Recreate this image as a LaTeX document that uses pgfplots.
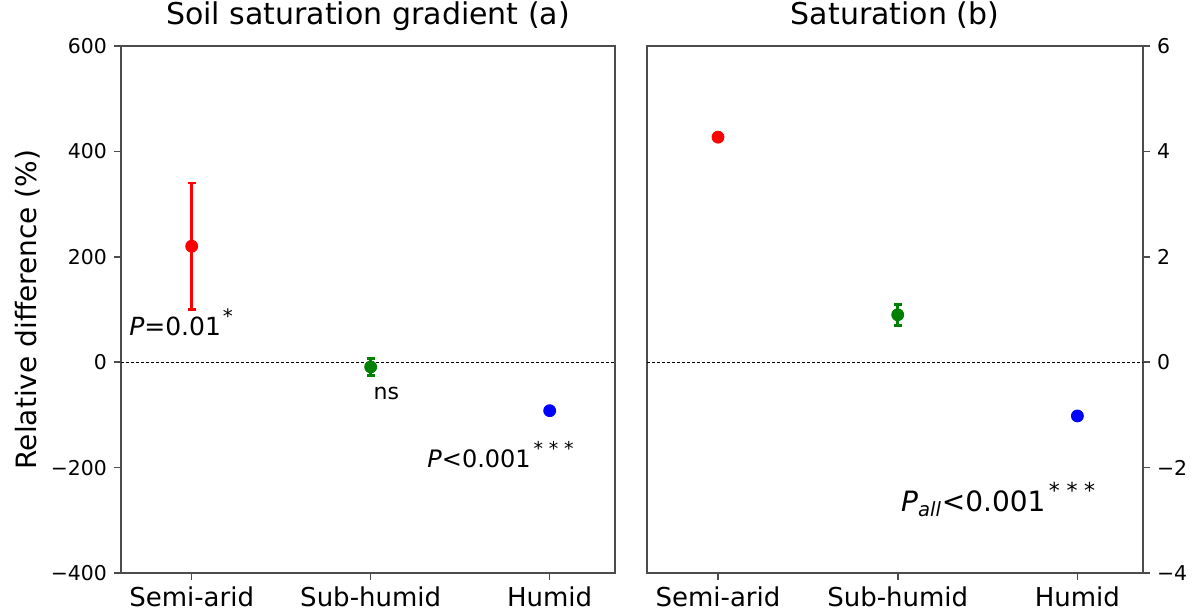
\documentclass[border=0pt]{standalone}
\usepackage{pgfplots}
\pgfplotsset{compat=1.18}
\usepackage{fontspec}
\setmainfont{DejaVu Sans}
\definecolor{mgreen}{HTML}{008000}
\newcommand{\sigstars}[1]{\raisebox{0.85ex}{\fontsize{#1}{#1}\selectfont *\hspace{0.3em}*\hspace{0.3em}*}}
\newcommand{\sigstar}[1]{\raisebox{0.85ex}{\fontsize{#1}{#1}\selectfont *}}
\begin{document}
\begin{tikzpicture}
\pgfplotsset{
  common/.style={
    scale only axis, height=263.5pt,
    xmin=-0.395, xmax=2.365,
    xtick={0,1,2}, xticklabels={Semi-arid,Sub-humid,Humid},
    xtick pos=left,
    tick align=outside, major tick length=3.5pt,
    axis line style={black!70, line width=0.8pt},
    tick style={black!70, line width=0.8pt},
    x tick label style={font=\fontsize{13}{15}\selectfont},
    y tick label style={font=\fontsize{10.2}{12}\selectfont},
    title style={font=\fontsize{15}{18}\selectfont, at={(0.5,1)}, anchor=base, yshift=4.5pt},
    clip=false,
  },
  ebar/.style={only marks, mark=*, mark size=3pt, color=#1,
    error bars/.cd, y dir=both, y explicit,
    error bar style={line width=1.3pt, color=#1},
    error mark options={rotate=90, mark size=2pt, line width=1.3pt, color=#1}},
}
\begin{axis}[common, name=a, width=247pt,
  ymin=-400, ymax=600, ytick={-400,-200,0,200,400,600},
  yticklabels={−400,−200,0,200,400,600},
  ytick pos=left,
  title={Soil saturation gradient (a)},
  ylabel={Relative difference (\%)},
  ylabel style={font=\fontsize{14}{17}\selectfont, anchor=center, at={(axis description cs:-0.188,0.5)}},
]
\addplot[black, line width=0.4pt, dash pattern=on 1.5pt off 1pt] coordinates {(-0.395,0) (2.365,0)};
\addplot[ebar=red] coordinates {(0,220) +- (0,120)};
\addplot[ebar=mgreen] coordinates {(1,-9) +- (0,16)};
\addplot[only marks, mark=*, mark size=3pt, color=blue] coordinates {(2,-92)};
\node[anchor=base west, font=\fontsize{12.5}{15}\selectfont, inner sep=0pt] at (axis cs:-0.351,51) {\textit{P}=0.01\hspace{0.08em}\sigstar{10}};
\node[anchor=base west, font=\fontsize{11}{13}\selectfont, inner sep=0pt] at (axis cs:1.014,-70) {ns};
\node[anchor=base west, font=\fontsize{12}{14}\selectfont, inner sep=0pt] at (axis cs:1.315,-199) {\textit{P}<0.001\hspace{0.12em}\sigstars{9.5}};
\end{axis}
\begin{axis}[common, at={(263pt,0)}, anchor=south west, width=248pt,
  ymin=-4, ymax=6, ytick={-4,-2,0,2,4,6},
  yticklabels={−4,−2,0,2,4,6},
  ytick pos=right, yticklabel pos=right,
  title={Saturation (b)},
]
\addplot[black, line width=0.4pt, dash pattern=on 1.5pt off 1pt] coordinates {(-0.395,0) (2.365,0)};
\addplot[only marks, mark=*, mark size=3pt, color=red] coordinates {(0,4.27)};
\addplot[ebar=mgreen] coordinates {(1,0.9) +- (0,0.2)};
\addplot[only marks, mark=*, mark size=3pt, color=blue] coordinates {(2,-1.02)};
\node[anchor=base west, font=\fontsize{14}{17}\selectfont, inner sep=0pt] at (axis cs:1.017,-2.84) {\textit{P}\textsubscript{\textit{all}}<0.001\hspace{0.12em}\sigstars{11}};
\end{axis}
\pgfresetboundingbox
\path (-60.5pt,-20pt) rectangle (538.5pt,286.5pt);
\end{tikzpicture}
\end{document}
